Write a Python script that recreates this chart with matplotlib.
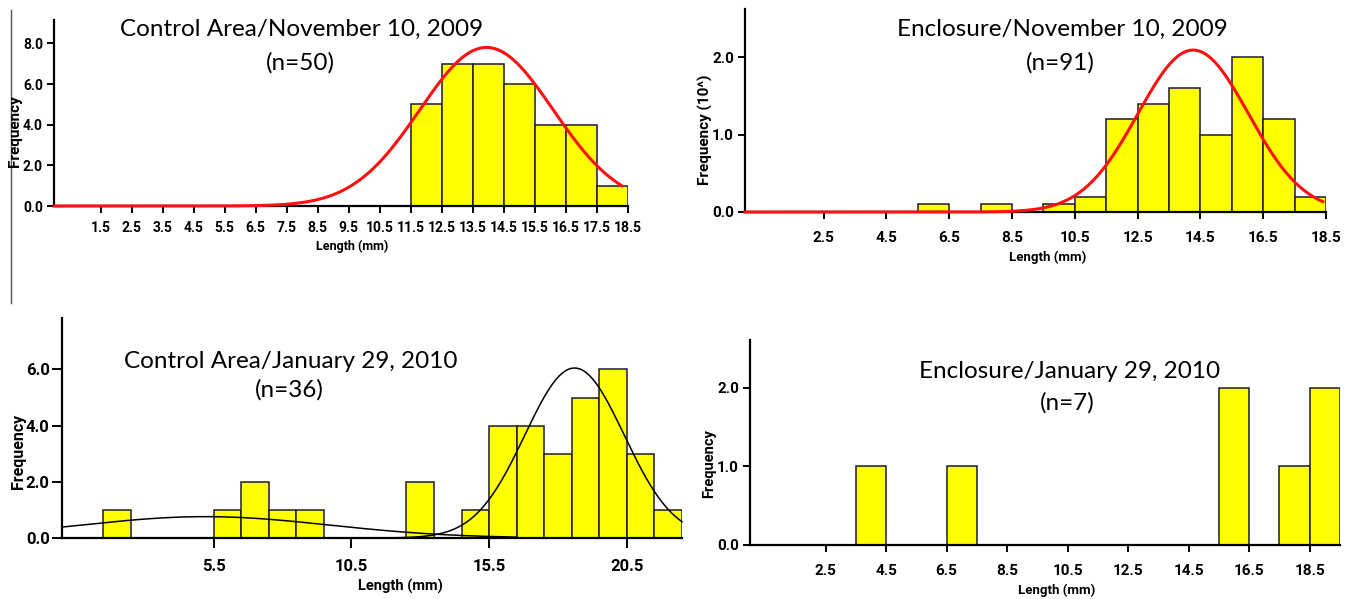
import numpy as np
import matplotlib
matplotlib.use("Agg")
import matplotlib.pyplot as plt
from matplotlib.lines import Line2D

# ---------------- data ----------------
# Panel 1: Control Area / November 10, 2009
p1_title = "Control Area/November 10, 2009"
p1_n = "(n=50)"
p1_bin_left = [11.5, 12.5, 13.5, 14.5, 15.5, 16.5, 17.5]
p1_counts = [5, 7, 7, 6, 4, 4, 1]
p1_xticks = [1.5, 2.5, 3.5, 4.5, 5.5, 6.5, 7.5, 8.5, 9.5, 10.5, 11.5, 12.5,
             13.5, 14.5, 15.5, 16.5, 17.5, 18.5]
p1_yticks = [0.0, 2.0, 4.0, 6.0, 8.0]
p1_fit = dict(mu=13.94, sigma=2.15, peak=7.8, x0=0.0, x1=18.3)

# Panel 2: Enclosure / November 10, 2009 (frequency in units of 10)
p2_title = "Enclosure/November 10, 2009"
p2_n = "(n=91)"
p2_bin_left = [5.5, 7.5, 9.5, 10.5, 11.5, 12.5, 13.5, 14.5, 15.5, 16.5, 17.5]
p2_counts = [0.1, 0.1, 0.1, 0.2, 1.2, 1.4, 1.6, 1.0, 2.0, 1.2, 0.2]
p2_xticks = [2.5, 4.5, 6.5, 8.5, 10.5, 12.5, 14.5, 16.5, 18.5]
p2_yticks = [0.0, 1.0, 2.0]
p2_fit = dict(mu=14.27, sigma=1.76, peak=2.09, x0=0.0, x1=18.4)

# Panel 3: Control Area / January 29, 2010
p3_title = "Control Area/January 29, 2010"
p3_n = "(n=36)"
p3_bin_left = [1.5, 5.5, 6.5, 7.5, 8.5, 12.5, 14.5, 15.5, 16.5, 17.5, 18.5,
               19.5, 20.5, 21.5]
p3_counts = [1, 1, 2, 1, 1, 2, 1, 4, 4, 3, 5, 6, 3, 1]
p3_xticks = [5.5, 10.5, 15.5, 20.5]
p3_yticks = [0.0, 2.0, 4.0, 6.0]
p3_fit_a = dict(mu=5.2, sigma=4.5, peak=0.76, x0=0.0, x1=16.5)
p3_fit_b = dict(mu=18.6, sigma=1.8, peak=6.05, x0=12.0, x1=22.5)

# Panel 4: Enclosure / January 29, 2010
p4_title = "Enclosure/January 29, 2010"
p4_n = "(n=7)"
p4_bin_left = [3.5, 6.5, 15.5, 17.5, 18.5]
p4_counts = [1, 1, 2, 1, 2]
p4_xticks = [2.5, 4.5, 6.5, 8.5, 10.5, 12.5, 14.5, 16.5, 18.5]
p4_yticks = [0.0, 1.0, 2.0]

# ---------------- style ----------------
W, H = 1346, 599
BAR_FACE = "#FFFF00"
BAR_EDGE = "#1a1a3a"
TICK_FONT = ["Roboto", "DejaVu Sans"]
TITLE_FONT = ["Lato", "DejaVu Sans"]

fig = plt.figure(figsize=(W / 100, H / 100), dpi=100)
fig.patch.set_facecolor("white")


def fx(x):
    return x / W


def fy(y):
    return 1 - y / H


def make_axes(left, right, bottom, top):
    return fig.add_axes([fx(left), fy(bottom), fx(right) - fx(left), fy(top) - fy(bottom)])


def style_axes(ax, xlim, ylim, xticks, yticks, size, xpad, ypad, ticklen):
    ax.set_xlim(*xlim)
    ax.set_ylim(*ylim)
    for s in ["top", "right"]:
        ax.spines[s].set_visible(False)
    for s in ["left", "bottom"]:
        ax.spines[s].set_linewidth(1.6)
        ax.spines[s].set_color("black")
    ax.set_xticks(xticks)
    ax.set_xticklabels([f"{t:.1f}" for t in xticks])
    ax.set_yticks(yticks)
    ax.set_yticklabels([f"{t:.1f}" for t in yticks])
    ax.tick_params(axis="both", direction="out", length=ticklen, width=1.4,
                   labelsize=size)
    ax.tick_params(axis="x", pad=xpad)
    ax.tick_params(axis="y", pad=ypad)
    for lab in ax.get_xticklabels() + ax.get_yticklabels():
        lab.set_fontfamily(TICK_FONT)
        lab.set_fontweight("bold")
    ax.set_facecolor("none")


def draw_bars(ax, lefts, counts):
    ax.bar(lefts, counts, width=1.0, align="edge", color=BAR_FACE,
           edgecolor=BAR_EDGE, linewidth=1.1, zorder=2)


def draw_fit(ax, p, color, lw):
    xs = np.linspace(p["x0"], p["x1"], 400)
    ys = p["peak"] * np.exp(-0.5 * ((xs - p["mu"]) / p["sigma"]) ** 2)
    ax.plot(xs, ys, color=color, linewidth=lw, zorder=3, clip_on=False)


def label_texts(title, n, tpos, npos, ylab, ylpos, xlpos, lab_size=9.5, ylab_size=10.5):
    fig.text(fx(tpos[0]), fy(tpos[1]), title, ha="center", va="center",
             fontsize=17.5, family=TITLE_FONT)
    fig.text(fx(npos[0]), fy(npos[1]), n, ha="center", va="center",
             fontsize=17.5, family=TITLE_FONT)
    fig.text(fx(ylpos[0]), fy(ylpos[1]), ylab, ha="center", va="center",
             rotation=90, fontsize=ylab_size, fontweight="bold", family=TICK_FONT)
    fig.text(fx(xlpos[0]), fy(xlpos[1]), "Length (mm)", ha="center", va="center",
             fontsize=lab_size, fontweight="bold", family=TICK_FONT)


# Panel 1
ax1 = make_axes(54, 628, 206, 20)
style_axes(ax1, (0, 18.5), (0, 9.15), p1_xticks, p1_yticks,
           size=10, xpad=6, ypad=3, ticklen=5)
draw_bars(ax1, p1_bin_left, p1_counts)
draw_fit(ax1, p1_fit, "#ff1010", 2.2)
label_texts(p1_title, p1_n, (302, 29), (300, 63), "Frequency", (15, 131), (352, 246),
            lab_size=9, ylab_size=11)

# Panel 2
ax2 = make_axes(745, 1326, 212, 9)
style_axes(ax2, (0, 18.5), (0, 2.62), p2_xticks, p2_yticks,
           size=11, xpad=8.5, ypad=3, ticklen=5)
draw_bars(ax2, p2_bin_left, p2_counts)
draw_fit(ax2, p2_fit, "#ff1010", 2.2)
label_texts(p2_title, p2_n, (1062, 29), (1060, 63), "Frequency (10^)", (705, 130), (1048, 257),
            ylab_size=11)

# Panel 3
ax3 = make_axes(62, 682, 538, 318)
style_axes(ax3, (0, 22.5), (0, 7.83), p3_xticks, p3_yticks,
           size=12, xpad=8, ypad=2, ticklen=7)
draw_bars(ax3, p3_bin_left, p3_counts)
draw_fit(ax3, p3_fit_a, "black", 1.1)
draw_fit(ax3, p3_fit_b, "black", 1.1)
label_texts(p3_title, p3_n, (291, 361), (289, 390), "Frequency", (19, 451), (400, 586),
            lab_size=10.5, ylab_size=11.5)

# Panel 4
ax4 = make_axes(750, 1340, 545, 340)
style_axes(ax4, (0, 19.5), (0, 2.61), p4_xticks, p4_yticks,
           size=11, xpad=8.5, ypad=3, ticklen=5)
draw_bars(ax4, p4_bin_left, p4_counts)
label_texts(p4_title, p4_n, (1070, 372), (1067, 403), "Frequency", (709, 464), (1057, 590),
            ylab_size=10.5)

# left separator line
fig.add_artist(Line2D([fx(11), fx(11)], [fy(10), fy(303)], color="#555555",
                      linewidth=1.0, transform=fig.transFigure))

fig.savefig("out.png", dpi=100, facecolor="white")
